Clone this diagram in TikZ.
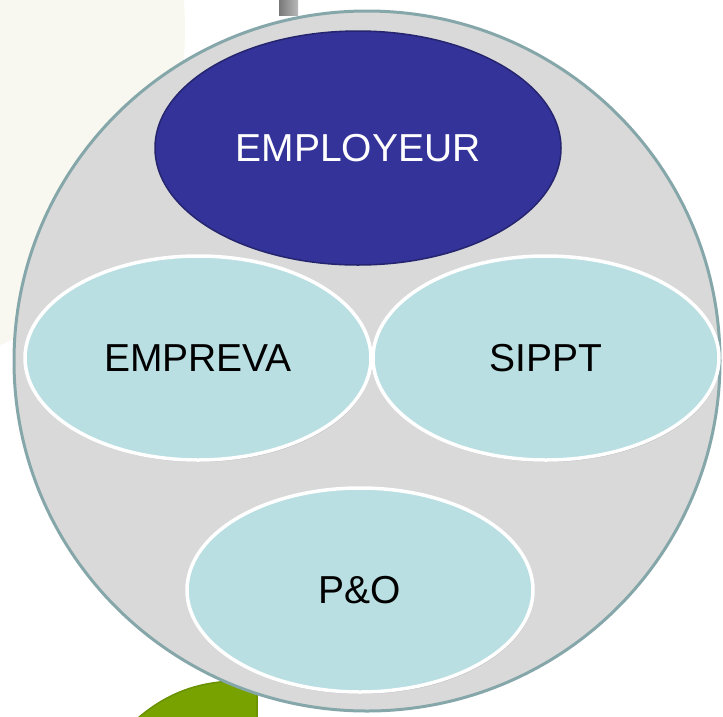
\documentclass[tikz,border=0pt]{standalone}
\usepackage{fontspec}
\setmainfont{Liberation Sans}
\usepackage{tikz}
\usetikzlibrary{positioning}
\usetikzlibrary{shapes.geometric}
\usetikzlibrary{shadows}
\definecolor{paper}{HTML}{F8F8F1}
\definecolor{ringfill}{HTML}{D9D9D9}
\definecolor{ringedge}{HTML}{86A7AA}
\definecolor{bossblue}{HTML}{333399}
\definecolor{bossedge}{HTML}{25256F}
\definecolor{paleteal}{HTML}{B9DFE3}
\definecolor{leafgreen}{HTML}{77A200}
\definecolor{leafedge}{HTML}{6A9100}

\begin{document}
\begin{tikzpicture}[x=1pt,y=-1pt,
	bubble/.style={ellipse, draw=white, line width=3.5pt, fill=paleteal, inner sep=0pt,
		minimum width=346pt, minimum height=204pt, text=black,
		font=\fontsize{39}{41}\selectfont,
		drop shadow={shadow xshift=1pt, shadow yshift=-2pt, opacity=0.3}},
	boss/.style={ellipse, draw=bossedge, line width=1.5pt, fill=bossblue, inner sep=0pt,
		minimum width=406pt, minimum height=234pt, text=white,
		font=\fontsize{39}{41}\selectfont}]
					\useasboundingbox (0,0) rectangle (723,716);
					\fill[white] (0,0) rectangle (723,716);
					\fill[paper] (0,0) -- (184,0) .. controls (194,160) and (120,300) .. (0,345) -- cycle;
					\fill[left color=gray!95!black, right color=gray!55] (279,0) rectangle (298,15);
					\filldraw[fill=leafgreen, draw=leafedge, line width=1.5pt] (138,718) .. controls (165,695) and (195,682) .. (235,681) -- (257,681) -- (257,718) -- cycle;

					\node[ellipse, fill=ringfill, draw=ringedge, line width=3pt, inner sep=0pt,
						minimum width=706pt, minimum height=700pt] (ring) at (367,361) {};

					\node[boss] (employeur) at (358,148) {EMPLOYEUR};
					\node[bubble] (empreva) at (198,358) {EMPREVA};
					\node[bubble] (sippt) at (546,358) {SIPPT};
					\node[bubble] (po) at (360,590) {P\&O};

				\end{tikzpicture}
\end{document}
